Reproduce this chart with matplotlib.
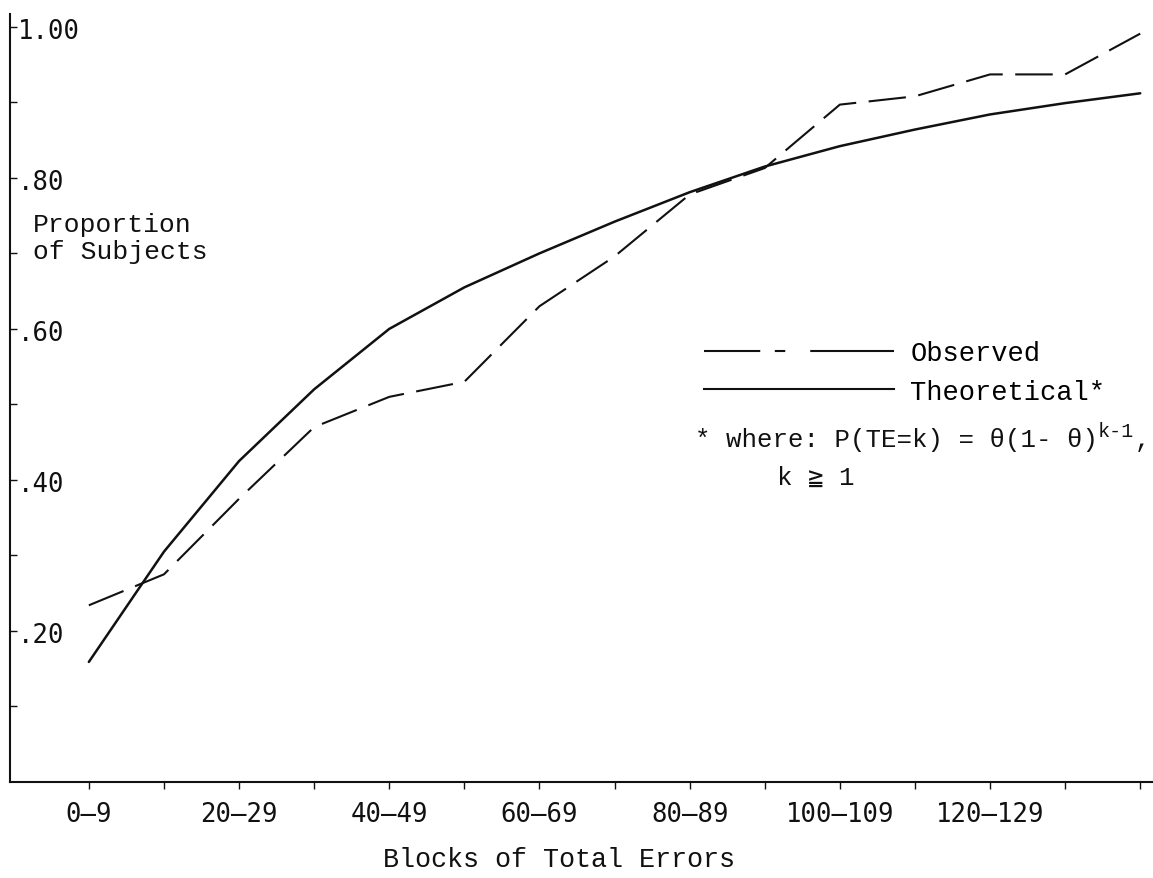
import matplotlib
matplotlib.use("Agg")
import matplotlib.pyplot as plt
from matplotlib.lines import Line2D
from matplotlib.transforms import blended_transform_factory

# blocks of total errors (one tick per block, label every other one)
block_labels = ["0–9", "10–19", "20–29", "30–39", "40–49", "50–59", "60–69",
                "70–79", "80–89", "90–99", "100–109", "110–119", "120–129",
                "130–139", "140–149"]
shown_labels = ["0–9", "20–29", "40–49", "60–69", "80–89", "100–109", "120–129"]

# cumulative proportion of subjects per block
observed = [0.234, 0.275, 0.375, 0.47, 0.51, 0.53, 0.63, 0.696, 0.778, 0.813,
            0.897, 0.908, 0.937, 0.937, 0.991]
theoretical = [0.159, 0.305, 0.425, 0.52, 0.60, 0.655, 0.70, 0.742, 0.781,
               0.815, 0.842, 0.864, 0.884, 0.899, 0.912]

y_ticks = [0.1, 0.2, 0.3, 0.4, 0.5, 0.6, 0.7, 0.8, 0.9, 1.0]
y_labels = {0.2: ".20", 0.4: ".40", 0.6: ".60", 0.8: ".80", 1.0: "1.00"}

W, H = 1153, 879
mono = ["Liberation Mono", "DejaVu Sans Mono", "DejaVu Sans"]
nums = ["DejaVu Sans Mono", "DejaVu Sans"]
ink = "#111111"

fig = plt.figure(figsize=(W / 100, H / 100), dpi=100)
ax = fig.add_axes([10 / W, (H - 783) / H, 1 - 10 / W, 768 / H])

x = list(range(len(block_labels)))
ax.plot(x, theoretical, color=ink, lw=1.8, solid_capstyle="round")
ax.plot(x, observed, color=ink, lw=1.5, dashes=(18, 6))

ax.set_xlim(-1.05, 14.17)
ax.set_ylim(0, 1.017)

for side in ["top", "right"]:
    ax.spines[side].set_visible(False)
for side in ["left", "bottom"]:
    ax.spines[side].set_linewidth(1.5)
    ax.spines[side].set_color(ink)

ax.set_xticks(x)
ax.set_xticklabels([lab if lab in shown_labels else "" for lab in block_labels],
                   fontsize=18.5, family=nums, color=ink)
ax.tick_params(axis="x", direction="out", length=5, width=1, pad=9, colors=ink)

ax.set_yticks(y_ticks)
ax.set_yticklabels([])
ax.tick_params(axis="y", direction="in", length=5, width=1, colors=ink)
tr = blended_transform_factory(ax.transAxes, ax.transData)
for v, lab in y_labels.items():
    ax.text(0.007, v - 0.006, lab, transform=tr, fontsize=18.5, family=nums,
            color=ink, ha="left", va="center")

fig.text(33 / W, 1 - 225 / H, "Proportion", fontsize=19, family=mono,
         color=ink, ha="left", va="center")
fig.text(33 / W, 1 - 252 / H, "of Subjects", fontsize=19, family=mono,
         color=ink, ha="left", va="center")
fig.text(559 / W, 1 - 860 / H, "Blocks of Total Errors", fontsize=19.3,
         family=mono, color=ink, ha="center", va="center")

handles = [Line2D([], [], color=ink, lw=1.5, dashes=(27, 7, 5, 12, 60, 1)),
           Line2D([], [], color=ink, lw=1.5)]
fig.legend(handles, ["Observed", "Theoretical*"], loc="upper left",
           bbox_to_anchor=(680 / W, 1 - 317 / H), frameon=False,
           prop={"family": mono, "size": 19.5}, handlelength=7.0,
           handletextpad=0.6, labelspacing=0.45)

# footnote with the model formula
renderer = fig.canvas.get_renderer()
t1 = fig.text(695 / W, 1 - 440 / H, "* where: P(TE=k) = \u03b8(1- \u03b8)",
              fontsize=18.5, family=mono, color=ink, ha="left", va="center")
bb = t1.get_window_extent(renderer)
t2 = fig.text(bb.x1 / W, bb.y1 / H - 0.004, "k-1", fontsize=14.5, family=mono,
              color=ink, ha="left", va="center")
bb2 = t2.get_window_extent(renderer)
fig.text(bb2.x1 / W, 1 - 440 / H, ",", fontsize=18.5, family=mono, color=ink,
         ha="left", va="center")
fig.text(777 / W, 1 - 478 / H, "k \u2267 1", fontsize=18.5, family=mono,
         color=ink, ha="left", va="center")

fig.savefig("out.png", dpi=100)
